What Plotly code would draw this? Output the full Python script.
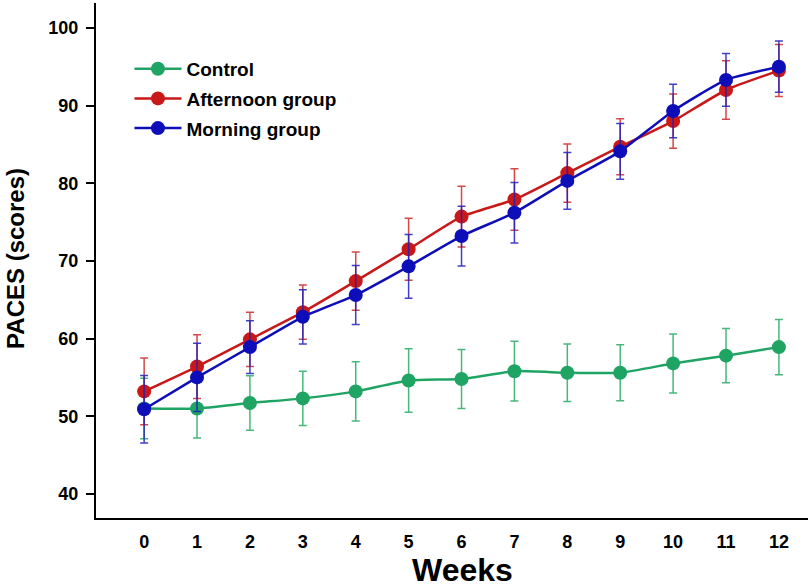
import plotly.graph_objects as go

weeks = list(range(13))

control = [51.0, 51.0, 51.7, 52.3, 53.2, 54.6, 54.8, 55.8, 55.6, 55.6, 56.8, 57.8, 58.9]
control_err = [3.9, 3.8, 3.5, 3.5, 3.8, 4.1, 3.8, 3.85, 3.7, 3.6, 3.8, 3.5, 3.55]

afternoon = [53.2, 56.4, 59.9, 63.4, 67.4, 71.5, 75.7, 77.9, 81.3, 84.7, 88.0, 92.0, 94.5]
afternoon_err = [4.3, 4.1, 3.5, 3.5, 3.75, 4.0, 3.9, 3.95, 3.75, 3.6, 3.5, 3.75, 3.35]

morning = [50.9, 55.0, 58.9, 62.8, 65.6, 69.3, 73.2, 76.2, 80.3, 84.1, 89.3, 93.3, 95.0]
morning_err = [4.35, 4.4, 3.4, 3.5, 3.8, 4.1, 3.85, 3.9, 3.65, 3.6, 3.45, 3.4, 3.3]

y_ticks = [40, 50, 60, 70, 80, 90, 100]
x_title = "Weeks"
y_title = "PACES (scores)"

series = [
    ("Control", control, control_err, "#20a464", "rgba(40,170,100,0.85)"),
    ("Afternoon group", afternoon, afternoon_err, "#c81818", "rgba(205,40,40,0.85)"),
    ("Morning group", morning, morning_err, "#0e0eb8", "rgba(30,30,190,0.85)"),
]

FONT = "Liberation Sans, Arial, sans-serif"

fig = go.Figure()
for i, (name, vals, err, col, ecol) in enumerate(series):
    fig.add_trace(go.Scatter(
        x=weeks, y=vals, name=name, mode="lines+markers",
        line=dict(color=col, width=2.5, shape="spline", smoothing=0.5),
        marker=dict(color=col, size=14),
        error_y=dict(type="data", array=err, visible=True, color=ecol,
                     thickness=1.5, width=4),
        legendgroup=f"g{i}",
    ))

fig.update_layout(
    width=810, height=587,
    margin=dict(l=96, r=2, t=3, b=69),
    paper_bgcolor="white", plot_bgcolor="white",
    font=dict(family=FONT, color="black"),
    showlegend=True,
    legend=dict(x=0.047, y=0.909, xanchor="left", yanchor="top",
                bgcolor="rgba(0,0,0,0)", tracegroupgap=2, itemwidth=47,
                font=dict(size=19, family=FONT, weight="bold")),
    annotations=[
        dict(text=y_title, xref="paper", yref="paper", x=-0.1124, y=0.505,
             xanchor="center", yanchor="middle", textangle=-90, showarrow=False,
             font=dict(size=24, weight="bold", family=FONT)),
        dict(text=x_title, xref="paper", yref="paper", x=0.515, y=-0.101,
             xanchor="center", yanchor="middle", showarrow=False,
             font=dict(size=32, weight="bold", family=FONT)),
    ],
)

fig.update_xaxes(
    range=[-0.91, 12.55], tickmode="array", tickvals=weeks,
    ticktext=[str(w) for w in weeks],
    showline=True, linecolor="black", linewidth=2, mirror=False,
    showgrid=False, zeroline=False, ticks="", automargin=False,
    ticklabelstandoff=6,
    tickfont=dict(size=18, weight="bold"),
)
fig.update_yaxes(
    range=[36.9, 103.2], tickmode="array", tickvals=y_ticks,
    showline=True, linecolor="black", linewidth=2, mirror=False,
    showgrid=False, zeroline=False, ticks="outside", ticklen=8, tickwidth=2,
    tickcolor="black", automargin=False, ticklabelstandoff=4,
    tickfont=dict(size=18, weight="bold"),
)

fig.write_html("out.html", config={"displayModeBar": False},
               post_script="document.body.style.margin='0px';document.body.style.overflow='hidden';")
